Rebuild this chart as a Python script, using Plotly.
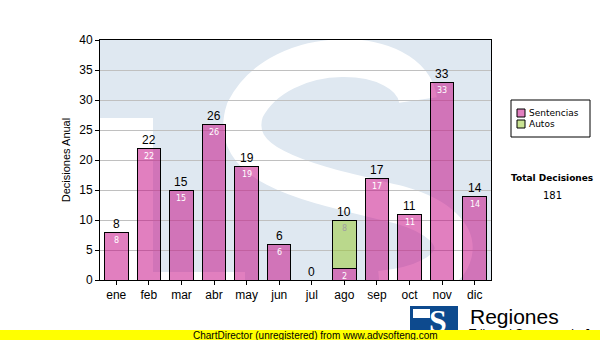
import plotly.graph_objects as go

# Monthly decisions
months = ["ene", "feb", "mar", "abr", "may", "jun", "jul", "ago", "sep", "oct", "nov", "dic"]
sentencias = [8, 22, 15, 26, 19, 6, 0, 2, 17, 11, 33, 14]
autos = [0, 0, 0, 0, 0, 0, 0, 8, 0, 0, 0, 0]
totals = [s + a for s, a in zip(sentencias, autos)]
y_ticks = [0, 5, 10, 15, 20, 25, 30, 35, 40]

series_names = ["Sentencias", "Autos"]
series_colors = ["rgba(196,0,128,0.5)", "rgba(150,200,40,0.5)"]

W, H = 600, 340
PX0, PX1, PY0, PY1 = 100, 491, 40, 280   # plot frame in pixels


def px(x):
    return x / W


def py(y):
    return 1 - y / H


def label(x, y, text, size, family="Liberation Sans, Arial", color="black", xanchor="center", yanchor="middle"):
    return dict(x=px(x), y=py(y), xref="paper", yref="paper", text=text, showarrow=False,
                xanchor=xanchor, yanchor=yanchor,
                font=dict(family=family, size=size, color=color))


def rect(x0, y0, x1, y1, fill, line=None, layer="above"):
    return dict(type="rect", xref="paper", yref="paper", x0=px(x0), x1=px(x1), y0=py(y1), y1=py(y0),
                fillcolor=fill, line=line or dict(width=0), layer=layer)


fig = go.Figure()

for name, vals, col in zip(series_names, [sentencias, autos], series_colors):
    fig.add_trace(go.Bar(
        x=months, y=vals, name=name, showlegend=False,
        marker=dict(color=col, line=dict(color="black", width=1)),
    ))

annotations = []
# value labels inside the bars and totals on top
for m, s, a, t in zip(months, sentencias, autos, totals):
    if s > 0:
        annotations.append(dict(x=m, y=s, xref="x", yref="y", text=str(s), showarrow=False,
                                xanchor="center", yanchor="top", yshift=-2,
                                font=dict(family="DejaVu Sans", size=8, color="white")))
    if a > 0:
        annotations.append(dict(x=m, y=s + a, xref="x", yref="y", text=str(a), showarrow=False,
                                xanchor="center", yanchor="top", yshift=-2,
                                font=dict(family="DejaVu Sans", size=8, color="#a0a0a0")))
    annotations.append(dict(x=m, y=t, xref="x", yref="y", text=str(t), showarrow=False,
                            xanchor="center", yanchor="bottom", yshift=-1,
                            font=dict(family="Liberation Sans, Arial", size=12, color="black")))

WM = "#dfe8f1"
shapes = [
    # watermark: light blue block with white cut-outs
    rect(PX0, PY0, PX1, PY1, WM, layer="below"),
    rect(PX0, 118, 153, PY1, "white", layer="below"),
    rect(153, 272, 245, PY1, "white", layer="below"),
    dict(type="path", xref="paper", yref="paper", layer="below",
         path=("M {},{} C {},{} {},{} {},{} C {},{} {},{} {},{} C {},{} {},{} {},{}").format(
             px(418), py(100), px(410), py(45), px(280), py(40), px(245), py(110),
             px(225), py(170), px(320), py(185), px(400), py(205),
             px(480), py(228), px(468), py(282), px(380), py(290)),
         line=dict(color="white", width=38)),
]

# legend box drawn beside the plot
LX0, LX1, LY0, LY1 = 511, 590, 100, 137
shapes.append(rect(LX0, LY0, LX1, LY1, "white", line=dict(color="black", width=1)))
for i, (name, col) in enumerate(zip(series_names, series_colors)):
    cy = 113 + 11 * i
    shapes.append(rect(517, cy - 4, 525, cy + 4, col, line=dict(color="black", width=1)))
    annotations.append(label(527, cy, name, 9, family="DejaVu Sans", xanchor="left"))

# side panel
annotations.append(label(552, 178, "<b>Total Decisiones</b>", 9, family="DejaVu Sans"))
annotations.append(label(552, 196, str(sum(totals)), 10, family="DejaVu Sans"))

# footer logo
shapes.append(rect(410, 306, 458, 340, "#0d4a8e"))
shapes.append(rect(413, 309, 430, 318, "white"))
annotations.append(label(438, 321, "<b>S</b>", 32, family="Liberation Serif, serif", color="white"))
annotations.append(label(468, 316, "Regiones", 21, xanchor="left"))
annotations.append(label(467, 334, "Tribunal Supremo de Justicia", 12, xanchor="left"))
# yellow banner across the bottom
annotations.append(dict(x=0, y=0, xref="paper", yref="paper", text="", showarrow=False,
                        xanchor="left", yanchor="bottom", width=600, height=10,
                        bgcolor="#ffff00", borderpad=0, borderwidth=0))
annotations.append(label(191, 335, "ChartDirector (unregistered) from www.advsofteng.com", 10,
                         xanchor="left"))

fig.update_layout(
    width=W, height=H,
    margin=dict(l=0, r=0, t=0, b=0, autoexpand=False),
    paper_bgcolor="white",
    plot_bgcolor="rgba(0,0,0,0)",
    barmode="stack",
    bargap=0.28,
    showlegend=False,
    xaxis=dict(domain=[px(PX0), px(PX1)], showgrid=False, showline=True, linecolor="black",
               mirror=True, ticks="outside", ticklen=4, tickcolor="black", automargin=False,
               tickfont=dict(family="Liberation Sans, Arial", size=12, color="black")),
    yaxis=dict(domain=[py(PY1), py(PY0)], range=[0, 40], tickvals=y_ticks, automargin=False,
               showgrid=True, gridcolor="#c0c0c0", gridwidth=1, zeroline=False,
               showline=True, linecolor="black", mirror=True,
               ticks="outside", ticklen=4, tickcolor="black",
               tickfont=dict(family="Liberation Sans, Arial", size=12, color="black"),
               title=dict(text="Decisiones Anual", standoff=6,
                          font=dict(family="Liberation Sans, Arial", size=11, color="black"))),
    annotations=annotations,
    shapes=shapes,
)

fig.write_html("out.html")
